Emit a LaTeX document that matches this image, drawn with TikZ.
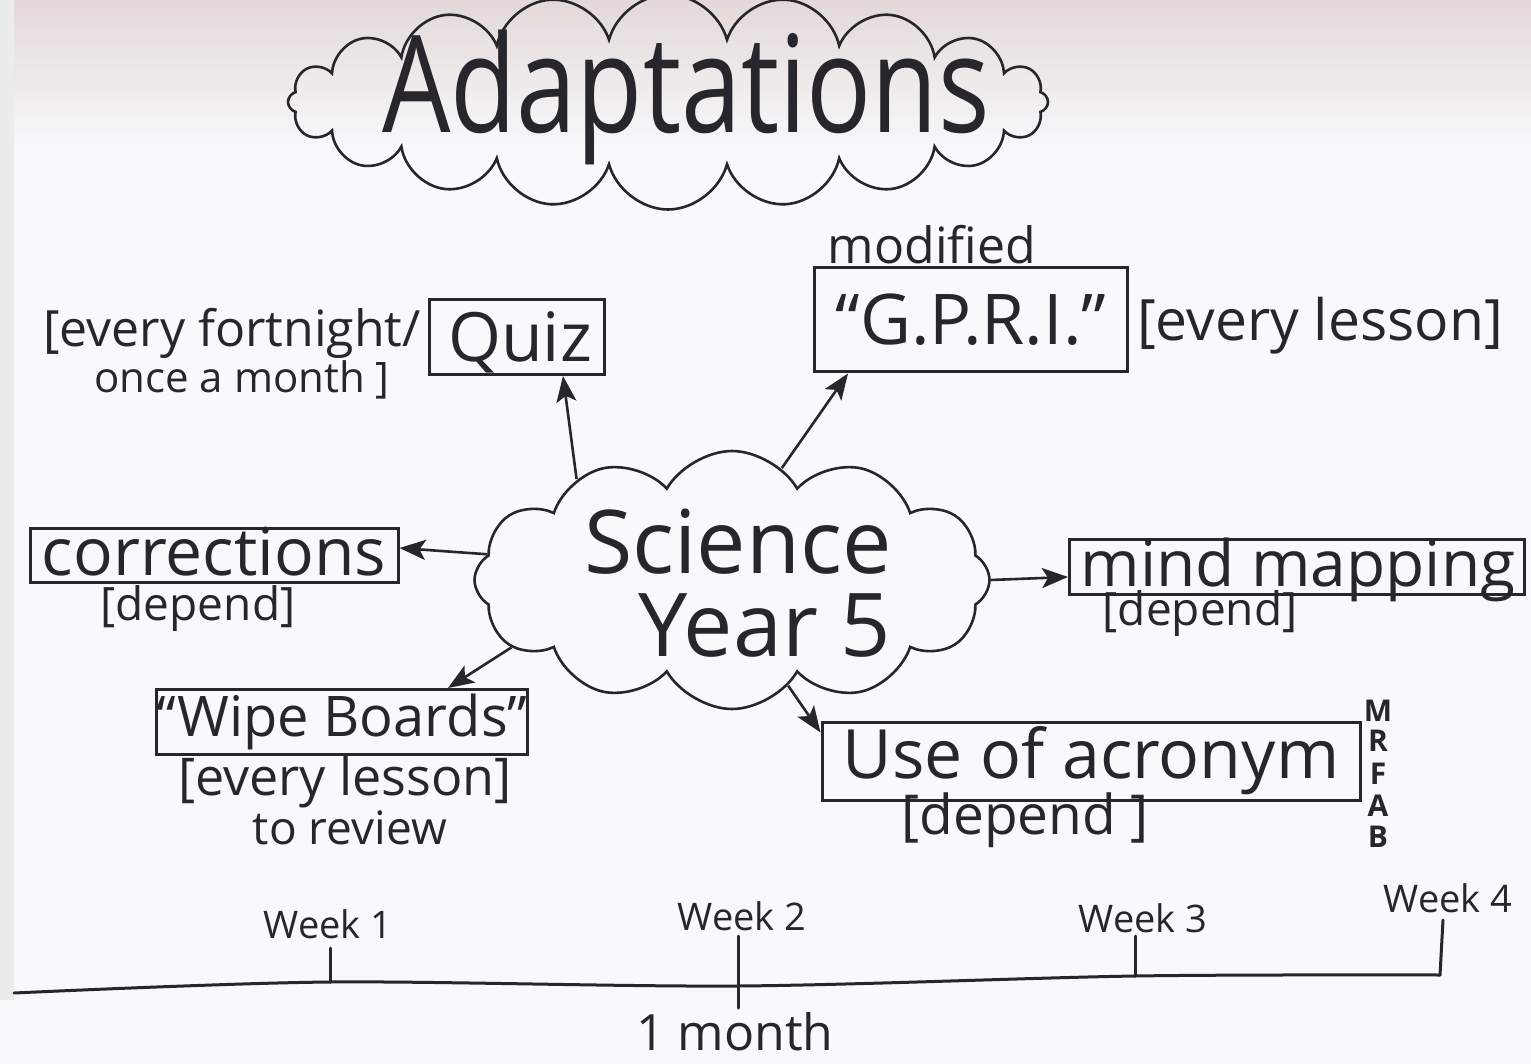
\documentclass[tikz,border=0pt]{standalone}
\usepackage{fontspec}
\setmainfont{Open Sans}
\usetikzlibrary{shapes.symbols,arrows.meta}
\definecolor{ink}{RGB}{38,38,44}
\definecolor{paper}{RGB}{247,249,251}
\definecolor{shade}{RGB}{228,216,216}
\newcommand{\fs}[1]{\fontsize{#1}{#1}\selectfont}
\tikzset{
  txt/.style={inner sep=0pt, text=ink, anchor=center},
  boxed/.style={draw=ink, line width=3pt, inner sep=0pt, text=ink},
  cloudy/.style={cloud, draw=ink, line width=2.6pt, cloud ignores aspect, inner sep=0pt, text=ink},
  arr/.style={draw=ink, line width=2.6pt, -{Stealth[length=26pt,width=20pt,inset=6pt]}},
  tl/.style={draw=ink, line width=3pt, line cap=round}
}
\begin{document}
\begin{tikzpicture}[x=1pt,y=-1pt]
% background
\fill[paper] (0,0) rectangle (1531,1064);
\shade[top color=shade, bottom color=paper] (0,0) rectangle (1531,150);
\fill[white!85!gray] (0,0) rectangle (14,1000);
\useasboundingbox (0,0) rectangle (1531,1064);

% title cloud
\node[cloudy, cloud puffs=20, minimum width=760pt, minimum height=215pt] (adapt) at (668,102) {};
\node[txt] (adapttxt) at (686,97) {\scalebox{1}[1.25]{\fs{108}Adaptations}};

% central cloud
\node[cloudy, cloud puffs=12, cloud puff arc=120, minimum width=515pt, minimum height=258pt] (sci) at (732,580) {};
\node[txt] (scitxt) at (738,542) {\fs{88}Science};
\node[txt] (yeartxt) at (765,626) {\fs{88}Year 5};

% boxes
\node[boxed, minimum width=175pt, minimum height=75pt] (quiz) at (517,337) {};
\node[txt] (quiztxt) at (520,342) {\fs{68}Quiz};
\node[boxed, minimum width=313pt, minimum height=104pt] (gpri) at (971,320) {\fs{70}``G.P.R.I.''};
\node[boxed, minimum width=368pt, minimum height=54pt] (corr) at (214,555) {};
\node[txt] (corrtxt) at (214,552) {\fs{66}corrections};
\node[boxed, minimum width=455pt, minimum height=55pt] (mind) at (1297,567) {};
\node[txt] (mindtxt) at (1298,570) {\fs{64}mind mapping};
\node[boxed, minimum width=370pt, minimum height=65pt] (wipe) at (342,722) {\fs{56}``Wipe Boards''};
\node[boxed, minimum width=538pt, minimum height=78pt] (acro) at (1091,761) {\fs{68}Use of acronym};

% labels
\node[txt] (fort1) at (232,333) {\fs{50}[every fortnight/};
\node[txt] (fort2) at (242,380) {\fs{42}once a month ]};
\node[txt] (modif) at (932,245) {\fs{50}modified};
\node[txt] (evl) at (1320,326) {\fs{57}[every lesson]};
\node[txt] (corrdep) at (198,609) {\fs{46}[depend]};
\node[txt] (minddep) at (1200,614) {\fs{46}[depend]};
\node[txt] (wipedep) at (345,782) {\fs{52}[every lesson]};
\node[txt] (wiperev) at (350,828) {\fs{46}to review};
\node[txt] (acrodep) at (1025,820) {\fs{55}[depend ]};
\node[txt] (lm) at (1378,711) {\fs{30}\bfseries M};
\node[txt] (lr) at (1378,741) {\fs{30}\bfseries R};
\node[txt] (lf) at (1378,774) {\fs{30}\bfseries F};
\node[txt] (la) at (1378,806) {\fs{30}\bfseries A};
\node[txt] (lb) at (1378,837) {\fs{30}\bfseries B};

% arrows
\draw[arr] (sci.147) -- ([xshift=46pt]quiz.south);
\draw[arr] (sci.66) -- ([xshift=35pt]gpri.south west);
\draw[arr] (sci.174) -- ([yshift=7pt]corr.east);
\draw[arr] (sci.east) -- ([yshift=-10pt]mind.west);
\draw[arr] (sci.197) -- ([xshift=106pt]wipe.north);
\draw[arr] (sci.298) -- ([yshift=-12pt]acro.north west);

% timeline
\coordinate (t0) at (14,993);
\coordinate (t1) at (330,982);
\coordinate (t2) at (738,986);
\coordinate (t3) at (1135,976);
\coordinate (t4) at (1440,975);
\draw[tl] plot[smooth, tension=0.5] coordinates {(14,993) (330,982) (738,986) (1135,976) (1440,975)};
\coordinate (k1) at (330,948);
\coordinate (k2a) at (738,936);
\coordinate (k2b) at (738,1008);
\coordinate (k3) at (1135,936);
\coordinate (k4) at (1443,920);
\draw[tl] (t1) -- (k1);
\draw[tl] (k2a) -- (k2b);
\draw[tl] (t3) -- (k3);
\draw[tl] (t4) -- (k4);
\node[txt] (w1) at (328,924) {\fs{38}Week 1};
\node[txt] (w2) at (742,916) {\fs{38}Week 2};
\node[txt] (w3) at (1143,918) {\fs{38}Week 3};
\node[txt] (w4) at (1448,898) {\fs{38}Week 4};
\node[txt] (month) at (735,1032) {\fs{50}1 month};
\end{tikzpicture}
\end{document}
